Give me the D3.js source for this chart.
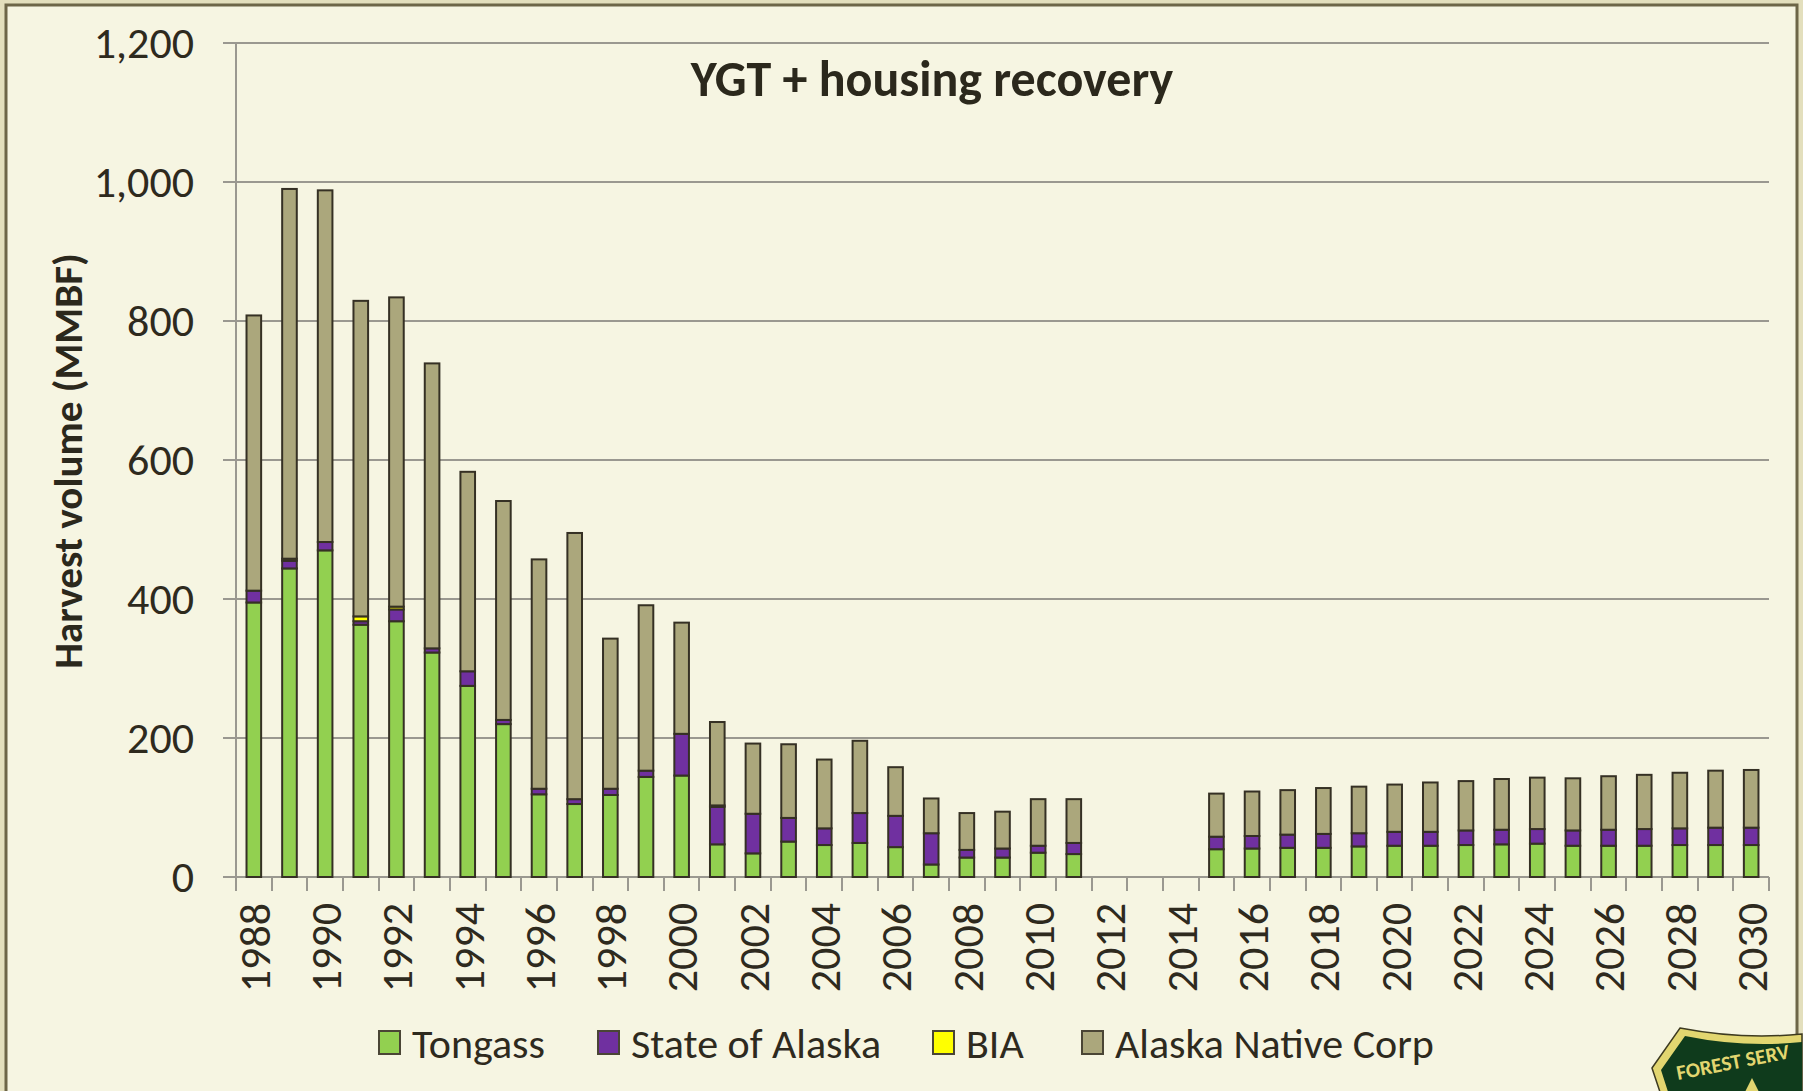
<!DOCTYPE html>
<meta charset="utf-8">
<style>
body { margin: 0; background: #e3dfbd; }
svg { display: block; font-family: Carlito, Lato, "Open Sans", sans-serif; }
.grid line { stroke: #9a9890; stroke-width: 2px; shape-rendering: crispEdges; }
.bar { stroke: #353024; stroke-width: 2px; }
.ylab, .xlab, .legend text { fill: #2e2a1e; }
</style>
<body>
<svg width="1803" height="1091"></svg>
<script src="https://d3js.org/d3.v7.min.js"></script>
<script>
var years = ["1988","1989","1990","1991","1992","1993","1994","1995","1996","1997","1998","1999",
  "2000","2001","2002","2003","2004","2005","2006","2007","2008","2009","2010","2011","2012","2013",
  "2014","2015","2016","2017","2018","2019","2020","2021","2022","2023","2024","2025","2026","2027",
  "2028","2029","2030"];

var tongass = [395,444,470,363,368,323,275,220,119,105,118,144,146,47,34,51,46,49,43,18,28,28,35,33,
  0,0,0,40,41,42,42,44,45,45,46,47,48,45,45,45,46,46,46];
var stateAK = [17,11,12,5,17,6,21,6,8,7,9,9,60,54,57,34,24,43,45,45,11,13,10,16,
  0,0,0,18,18,19,20,19,20,20,21,21,21,22,23,24,24,25,25];
var bia = [0,3,0,7,4,0,0,0,0,0,0,0,0,2,0,0,0,0,0,0,0,0,0,0,
  0,0,0,0,0,0,0,0,0,0,0,0,0,0,0,0,0,0,0];
var nativeCorp = [396,532,506,454,445,410,287,315,330,383,216,238,160,120,101,106,99,104,70,50,53,53,67,63,
  0,0,0,62,64,64,66,67,68,71,71,73,74,75,77,78,80,82,83];

var yTicks = [0,200,400,600,800,1000,1200];
var seriesNames = ["Tongass","State of Alaska","BIA","Alaska Native Corp"];
var colors = ["#92d050","#7030a0","#ffff00","#aba77c"];

var svg = d3.select("svg");

// background + frame
svg.append("rect").attr("x",0).attr("y",0).attr("width",1803).attr("height",1091).attr("fill","#e3dfbd");
svg.append("rect").attr("x",6).attr("y",5).attr("width",1791).attr("height",1100)
  .attr("fill","#f6f5e2").attr("stroke","#6d6648").attr("stroke-width",3);

var plot = {left: 236, right: 1769, top: 43, bottom: 877};

var x = d3.scaleBand()
  .domain(years)
  .range([plot.left, plot.right])
  .paddingInner(0.59)
  .paddingOuter(0.295);

var y = d3.scaleLinear()
  .domain([0, 1200])
  .range([plot.bottom, plot.top]);

// gridlines
var grid = svg.append("g").attr("class","grid");
grid.selectAll("line.h").data(yTicks).enter().append("line")
  .attr("class","h")
  .attr("x1", plot.left - 13).attr("x2", plot.right)
  .attr("y1", function(d){ return y(d); }).attr("y2", function(d){ return y(d); });
grid.append("line")
  .attr("x1", plot.left).attr("x2", plot.left)
  .attr("y1", y(1200)).attr("y2", y(0));

// x ticks at category boundaries
var bounds = d3.range(years.length + 1).map(function(i){ return plot.left + i * x.step(); });
grid.selectAll("line.t").data(bounds).enter().append("line")
  .attr("class","t")
  .attr("x1", function(d){ return d; }).attr("x2", function(d){ return d; })
  .attr("y1", y(0)).attr("y2", y(0) + 14);

svg.selectAll("text.ylab").data(yTicks).enter().append("text")
  .attr("class","ylab")
  .attr("x", plot.left - 42)
  .attr("y", function(d){ return y(d); })
  .attr("dy","0.35em")
  .attr("text-anchor","end")
  .style("font-size","44px")
  .text(d3.format(","));

// stacked bars
var table = years.map(function(yr, i){
  return {year: yr, "Tongass": tongass[i], "State of Alaska": stateAK[i], "BIA": bia[i], "Alaska Native Corp": nativeCorp[i]};
});
var stack = d3.stack().keys(seriesNames)(table);

svg.selectAll("g.series").data(stack).enter().append("g")
  .attr("class","series")
  .attr("fill", function(d, i){ return colors[i]; })
  .selectAll("rect")
  .data(function(d){ return d.filter(function(p){ return p[1] > p[0]; }); })
  .enter().append("rect")
  .attr("class","bar")
  .attr("x", function(d){ return x(d.data.year); })
  .attr("width", x.bandwidth())
  .attr("y", function(d){ return y(d[1]); })
  .attr("height", function(d){ return y(d[0]) - y(d[1]); });

// x labels, every other year
svg.selectAll("text.xlab").data(years.filter(function(d, i){ return i % 2 === 0; })).enter().append("text")
  .attr("class","xlab")
  .attr("transform", function(d){ return "translate(" + (x(d) + x.bandwidth()/2) + "," + (y(0) + 26) + ") rotate(-90)"; })
  .attr("dy","0.36em")
  .attr("text-anchor","end")
  .style("font-size","44px")
  .text(function(d){ return d; });

// title
svg.append("text")
  .attr("x", 932).attr("y", 78)
  .attr("dy","0.35em")
  .attr("text-anchor","middle")
  .style("font-size","50px").style("font-weight","bold").attr("fill","#2b281c")
  .text("YGT + housing recovery");

svg.append("text")
  .attr("transform","translate(68,461) rotate(-90)")
  .attr("dy","0.35em")
  .attr("text-anchor","middle")
  .style("font-size","41px").style("font-weight","bold").attr("fill","#2b281c")
  .text("Harvest volume (MMBF)");

// legend
var legendX = [379, 598, 933, 1082];
var legend = svg.append("g").attr("class","legend");
var items = legend.selectAll("g").data(seriesNames).enter().append("g")
  .attr("transform", function(d, i){ return "translate(" + legendX[i] + ",1043)"; });
items.append("rect")
  .attr("x",0).attr("y",-12).attr("width",21).attr("height",23)
  .attr("fill", function(d, i){ return colors[i]; })
  .attr("stroke","#4a4535").attr("stroke-width",2);
items.append("text")
  .attr("x",33).attr("dy","0.35em")
  .style("font-size","42px")
  .text(function(d){ return d; });

// Forest Service badge (partial, bottom right corner)
var badge = svg.append("g").attr("transform","translate(1652,1028)");
badge.append("path")
  .attr("d","M0,40 L28,0 Q90,12 150,6 L150,70 L10,70 Z")
  .attr("fill","#e2d670").attr("stroke","#3d3a20").attr("stroke-width",1.5);
badge.append("path")
  .attr("d","M9,42 L33,8 Q92,20 150,14 L150,70 L18,70 Z")
  .attr("fill","#0f3b1c");
badge.append("path")
  .attr("d","M100,50 L92,66 L108,66 Z")
  .attr("fill","#e2d670");
badge.append("text")
  .attr("x",26).attr("y",52)
  .attr("transform","rotate(-11,26,52)")
  .style("font-size","21px").style("font-weight","bold")
  .attr("fill","#e2d670")
  .text("FOREST SERV");
</script>
</body>
</html>
